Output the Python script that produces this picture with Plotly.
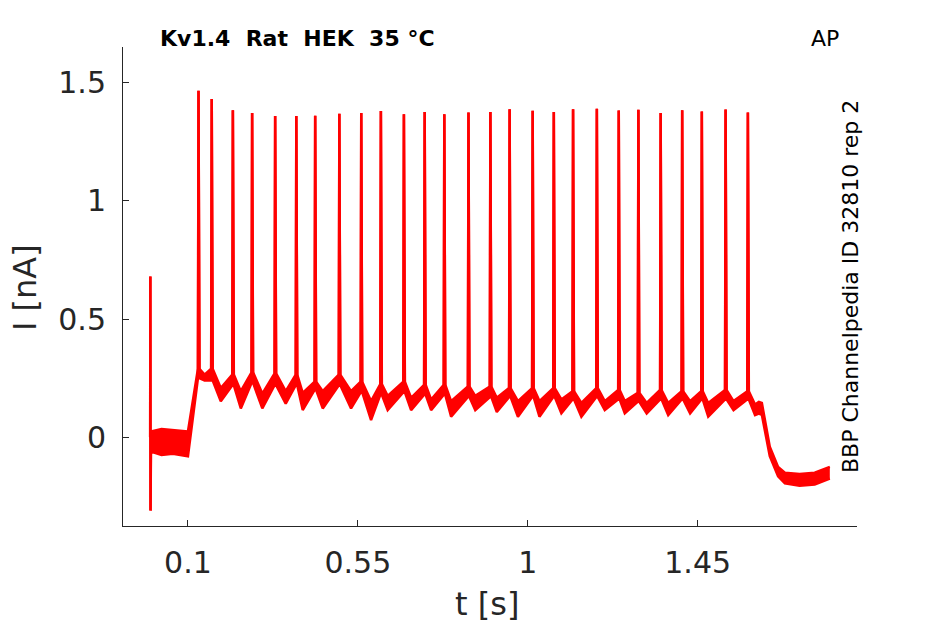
import plotly.graph_objects as go

# spike times [s] and peak currents [nA]
spike_t = [0.128, 0.163, 0.219, 0.270, 0.331, 0.387, 0.437, 0.501, 0.559, 0.611,
           0.672, 0.727, 0.779, 0.843, 0.901, 0.952, 1.013, 1.069, 1.120, 1.183,
           1.241, 1.293, 1.352, 1.409, 1.461, 1.524, 1.583]
spike_peak = [1.465, 1.430, 1.383, 1.371, 1.358, 1.358, 1.359, 1.368, 1.371, 1.379,
              1.366, 1.375, 1.366, 1.373, 1.375, 1.387, 1.380, 1.375, 1.387, 1.389,
              1.382, 1.385, 1.371, 1.383, 1.377, 1.386, 1.373]

# baseline just before each spike (upper / lower sweep)
shoulder_hi = [0.29, 0.29, 0.265, 0.275, 0.27, 0.265, 0.235, 0.265, 0.235, 0.225,
               0.235, 0.222, 0.222, 0.215, 0.215, 0.208, 0.208, 0.208, 0.195, 0.208,
               0.20, 0.188, 0.20, 0.195, 0.195, 0.20, 0.195]
shoulder_lo = [0.25, 0.24, 0.22, 0.23, 0.22, 0.22, 0.20, 0.22, 0.19, 0.18,
               0.19, 0.18, 0.18, 0.17, 0.17, 0.17, 0.17, 0.17, 0.16, 0.17,
               0.16, 0.15, 0.16, 0.16, 0.16, 0.16, 0.16]

# troughs after each spike
trough_t = [0.144, 0.187, 0.240, 0.297, 0.359, 0.404, 0.457, 0.532, 0.585, 0.629,
            0.691, 0.744, 0.797, 0.861, 0.918, 0.974, 1.031, 1.089, 1.142, 1.204,
            1.257, 1.315, 1.372, 1.430, 1.478, 1.545, 1.602]
trough_hi = [0.265, 0.208, 0.195, 0.185, 0.195, 0.188, 0.195, 0.195, 0.153, 0.175,
             0.167, 0.16, 0.153, 0.175, 0.167, 0.153, 0.153, 0.16, 0.145, 0.153,
             0.153, 0.145, 0.145, 0.153, 0.145, 0.153, 0.139]
trough_lo = [0.24, 0.152, 0.122, 0.122, 0.142, 0.115, 0.122, 0.122, 0.073, 0.115,
             0.115, 0.115, 0.087, 0.115, 0.107, 0.087, 0.087, 0.101, 0.087, 0.115,
             0.101, 0.101, 0.094, 0.101, 0.087, 0.115, 0.094]

# before the step: start artefact and holding current
pre_t = [0.0, 0.0004, 0.0009, 0.002, 0.03, 0.06, 0.1]
pre_hi = [0.0, 0.68, -0.31, 0.025, 0.035, 0.03, 0.025]
pre_lo = [0.0, 0.68, -0.31, -0.06, -0.075, -0.07, -0.08]

# after the last spike: offset of the stimulus
post_t = [1.612, 1.620, 1.641, 1.663, 1.681, 1.72, 1.76, 1.8]
post_hi = [0.15, 0.145, -0.04, -0.125, -0.15, -0.155, -0.15, -0.125]
post_lo = [0.10, 0.095, -0.08, -0.165, -0.195, -0.205, -0.2, -0.175]

x_ticks = [0.1, 0.55, 1, 1.45]
x_labels = ["0.1", "0.55", "1", "1.45"]
y_ticks = [0, 0.5, 1, 1.5]
y_labels = ["0", "0.5", "1", "1.5"]


def sweep(pre, shoulder, trough, post):
    t, i = list(pre_t), list(pre)
    for k in range(len(spike_t)):
        t += [spike_t[k] - 0.0015, spike_t[k], spike_t[k] + 0.0025, trough_t[k]]
        i += [shoulder[k], spike_peak[k], shoulder[k], trough[k]]
    return t + post_t, i + post


t_lo, i_lo = sweep(pre_lo, shoulder_lo, trough_lo, post_lo)
t_hi, i_hi = sweep(pre_hi, shoulder_hi, trough_hi, post_hi)

RED = "#ff0000"
INK = "#262626"
FONT = "DejaVu Sans"

fig = go.Figure()
fig.add_trace(go.Scatter(x=t_lo, y=i_lo, mode="lines",
                         line=dict(color=RED, width=2.5), showlegend=False))
fig.add_trace(go.Scatter(x=t_hi, y=i_hi, mode="lines", fill="tonexty",
                         fillcolor=RED, line=dict(color=RED, width=2.5),
                         showlegend=False))

# plot area in pixels: x 123..857, y 47..526
def fx(px):
    return (px - 123) / 734


def fy(py):
    return (526 - py) / 479


fig.update_layout(
    width=945, height=624,
    margin=dict(l=123, r=88, t=47, b=98),
    paper_bgcolor="white", plot_bgcolor="white",
    font=dict(family=FONT, color=INK),
    xaxis=dict(range=[-0.072, 1.872], tickvals=x_ticks, ticktext=x_labels,
               ticks="inside", ticklen=6, tickcolor=INK, showline=True,
               linecolor=INK, linewidth=1, showgrid=False, zeroline=False,
               tickfont=dict(size=30, color=INK), ticklabelstandoff=10),
    yaxis=dict(range=[-0.375, 1.65], tickvals=y_ticks, ticktext=y_labels,
               ticks="inside", ticklen=6, tickcolor=INK, showline=True,
               linecolor=INK, linewidth=1, showgrid=False, zeroline=False,
               tickfont=dict(size=30, color=INK), ticklabelstandoff=10),
    annotations=[
        dict(text="Kv1.4\u00a0\u00a0Rat\u00a0\u00a0HEK\u00a0\u00a035\u00a0°C",
             xref="paper", yref="paper", x=fx(158), y=fy(39),
             xanchor="left", yanchor="middle", showarrow=False,
             font=dict(size=22, color="black", family=FONT, weight="bold")),
        dict(text="AP", xref="paper", yref="paper", x=fx(825), y=fy(39),
             xanchor="center", yanchor="middle", showarrow=False,
             font=dict(size=22, color="black", family=FONT)),
        dict(text="BBP Channelpedia ID 32810 rep 2", xref="paper", yref="paper",
             x=fx(850), y=fy(287), xanchor="center", yanchor="middle",
             textangle=-90, showarrow=False,
             font=dict(size=22, color="black", family=FONT)),
        dict(text="I [nA]", xref="paper", yref="paper", x=fx(25), y=fy(288),
             xanchor="center", yanchor="middle", textangle=-90, showarrow=False,
             font=dict(size=32, color=INK, family=FONT)),
        dict(text="t [s]", xref="paper", yref="paper", x=fx(487), y=fy(604),
             xanchor="center", yanchor="middle", showarrow=False,
             font=dict(size=32, color=INK, family=FONT)),
    ],
)

# drop the page's default body margin so the figure sits at the top-left corner
fig.write_html("out.html", config={"displayModeBar": False},
               post_script="document.body.style.margin='0';")
